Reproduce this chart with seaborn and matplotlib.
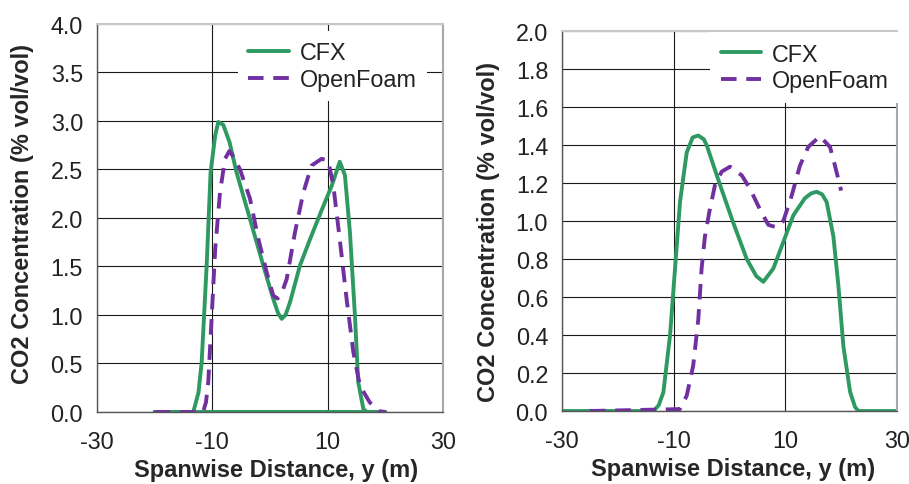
import matplotlib
matplotlib.use("Agg")
import matplotlib.pyplot as plt
import pandas as pd
import seaborn as sns


# =========================================================
# 1. DATA
# =========================================================

# left panel
left_cfx_x = [-20, -13.3, -12.4, -11.85, -10.98, -10.3, -9.5, -8.97, -8.1, -7.0, -5.8, -3.47,
              -1.16, 0.57, 1.4, 2.03, 2.7, 3.47, 5.2, 6.94, 8.96, 10.7, 12.1, 13.0, 13.87,
              14.74, 15.3, 16.2, 16.8, 20, -20]
left_cfx_y = [0, 0, 0.2, 0.51, 1.51, 2.47, 2.85, 2.99, 2.96, 2.78, 2.47, 1.99,
              1.51, 1.165, 1.02, 0.96, 1.0, 1.13, 1.51, 1.78, 2.08, 2.33, 2.58, 2.44, 1.85,
              0.99, 0.31, 0.03, 0, 0, 0]

left_of_x = [-20, -11.6, -11.1, -10.7, -10.1, -9.5, -8.67, -7.8, -7.05, -6.2, -5.2, -3.47,
             -2.0, -0.57, 0.57, 1.3, 2.0, 2.9, 4.33, 5.78, 7.2, 8.96, 10.1, 11.0, 12.1,
             13.3, 14.45, 15.6, 17.3, 18.8, 20]
left_of_y = [0, 0, 0.1, 0.31, 0.99, 1.68, 2.26, 2.61, 2.69, 2.62, 2.5, 2.2,
             1.78, 1.44, 1.2, 1.17, 1.22, 1.37, 1.85, 2.26, 2.54, 2.61, 2.59, 2.33, 1.78,
             1.16, 0.62, 0.27, 0.1, 0.01, 0]

# right panel
right_cfx_x = [-30, -13.6, -12.7, -11.85, -10.65, -9.76, -8.87, -7.67, -6.6, -5.6, -4.6, -4.1,
               -1.7, 0.68, 3.08, 4.8, 6.06, 7.85, 9.64, 11.43, 13.5, 14.6, 15.6, 16.6, 17.4,
               18.6, 19.5, 20.4, 21.6, 22.5, 23.1, 30]
right_cfx_y = [0, 0, 0.03, 0.098, 0.40, 0.75, 1.10, 1.36, 1.44, 1.45, 1.43, 1.40,
               1.19, 0.99, 0.80, 0.71, 0.68, 0.75, 0.89, 1.03, 1.12, 1.145, 1.154, 1.14, 1.10,
               0.92, 0.66, 0.34, 0.1, 0.02, 0, 0]

right_of_x = [-25, -8.9, -7.67, -6.5, -5.6, -5.0, -4.4, -3.6, -2.6, -1.4, 0.09, 2.2, 3.67,
              5.47, 6.95, 8.46, 9.64, 11.1, 12.6, 14.1, 16.2, 18.0, 18.9, 20.0]
right_of_y = [0, 0.01, 0.08, 0.24, 0.48, 0.75, 0.92, 1.05, 1.19, 1.26, 1.286, 1.24, 1.17,
              1.06, 0.98, 0.966, 1.0, 1.13, 1.29, 1.39, 1.446, 1.39, 1.29, 1.16]

x_ticks = [-30, -10, 10, 30]
left_y_ticks = [0.0, 0.5, 1.0, 1.5, 2.0, 2.5, 3.0, 3.5, 4.0]
right_y_ticks = [0.0, 0.2, 0.4, 0.6, 0.8, 1.0, 1.2, 1.4, 1.6, 1.8, 2.0]

series_names = ["CFX", "OpenFoam"]
x_label = "Spanwise Distance, y (m)"
y_label = "CO2 Concentration (% vol/vol)"

GREEN = "#2E9A62"
PURPLE = "#7030A0"


# =========================================================
# 2. HELPERS
# =========================================================

def style_axes(ax, y_ticks, xlab_pos, ylab_pos):
    ax.set_xlim(-30, 30)
    ax.set_ylim(y_ticks[0], y_ticks[-1])
    ax.set_xticks(x_ticks)
    ax.set_xticklabels([str(t) for t in x_ticks])
    ax.set_yticks(y_ticks)
    ax.set_yticklabels([f"{t:.1f}" for t in y_ticks])
    ax.grid(True, color="#1a1a1a", linewidth=0.8)
    ax.set_axisbelow(True)
    for side in ["left", "bottom"]:
        ax.spines[side].set_color("#555555")
        ax.spines[side].set_linewidth(1.0)
    ax.spines["top"].set_color("#C8C8C8")
    ax.spines["right"].set_color("#A8A8A8")
    ax.spines["top"].set_linewidth(1.5)
    ax.spines["right"].set_linewidth(1.5)
    ax.tick_params(axis="both", direction="out", length=4, width=1.0, color="#333333",
                   labelsize=16.8, labelcolor="#222222")
    ax.tick_params(axis="y", pad=6)
    ax.tick_params(axis="x", pad=9)
    ax.set_xlabel(x_label, fontsize=17, fontweight="bold")
    ax.set_ylabel(y_label, fontsize=17, fontweight="bold")
    ax.xaxis.set_label_coords(*xlab_pos)
    ax.yaxis.set_label_coords(*ylab_pos)


def draw_panel(ax, cfx_x, cfx_y, of_x, of_y):
    cfx = pd.DataFrame({"x": cfx_x, "y": cfx_y})
    of = pd.DataFrame({"x": of_x, "y": of_y})
    sns.lineplot(data=cfx, x="x", y="y", ax=ax, sort=False, estimator=None,
                 color=GREEN, linewidth=2.8, label=series_names[0])
    sns.lineplot(data=of, x="x", y="y", ax=ax, sort=False, estimator=None,
                 color=PURPLE, linewidth=2.8, dashes=False, label=series_names[1])
    ax.lines[-1].set_dashes((4.0, 2.5))


# =========================================================
# 3. FIGURE
# =========================================================

sns.set_style("white")
plt.rcParams["font.family"] = ["Liberation Sans", "DejaVu Sans"]

fig = plt.figure(figsize=(9.09, 4.85), dpi=100)
ax1 = fig.add_axes([0.1067, 0.1485, 0.3806, 0.80])
ax2 = fig.add_axes([0.6183, 0.1505, 0.3685, 0.7835])

draw_panel(ax1, left_cfx_x, left_cfx_y, left_of_x, left_of_y)
draw_panel(ax2, right_cfx_x, right_cfx_y, right_of_x, right_of_y)

style_axes(ax1, left_y_ticks, (0.519, -0.118), (-0.182, 0.514))
style_axes(ax2, right_y_ticks, (0.512, -0.121), (-0.185, 0.474))

for ax, anchor in [(ax1, (0.4075, 0.982)), (ax2, (0.442, 0.997))]:
    leg = ax.legend(loc="upper left", bbox_to_anchor=anchor, borderaxespad=0,
                    fontsize=16.8, frameon=True, fancybox=False, framealpha=1,
                    facecolor="white", edgecolor="none", handlelength=1.75,
                    handletextpad=0.45, labelspacing=0.15, borderpad=0.45)
    for t in leg.get_texts():
        t.set_color("#222222")

fig.savefig("out.png", dpi=100)
